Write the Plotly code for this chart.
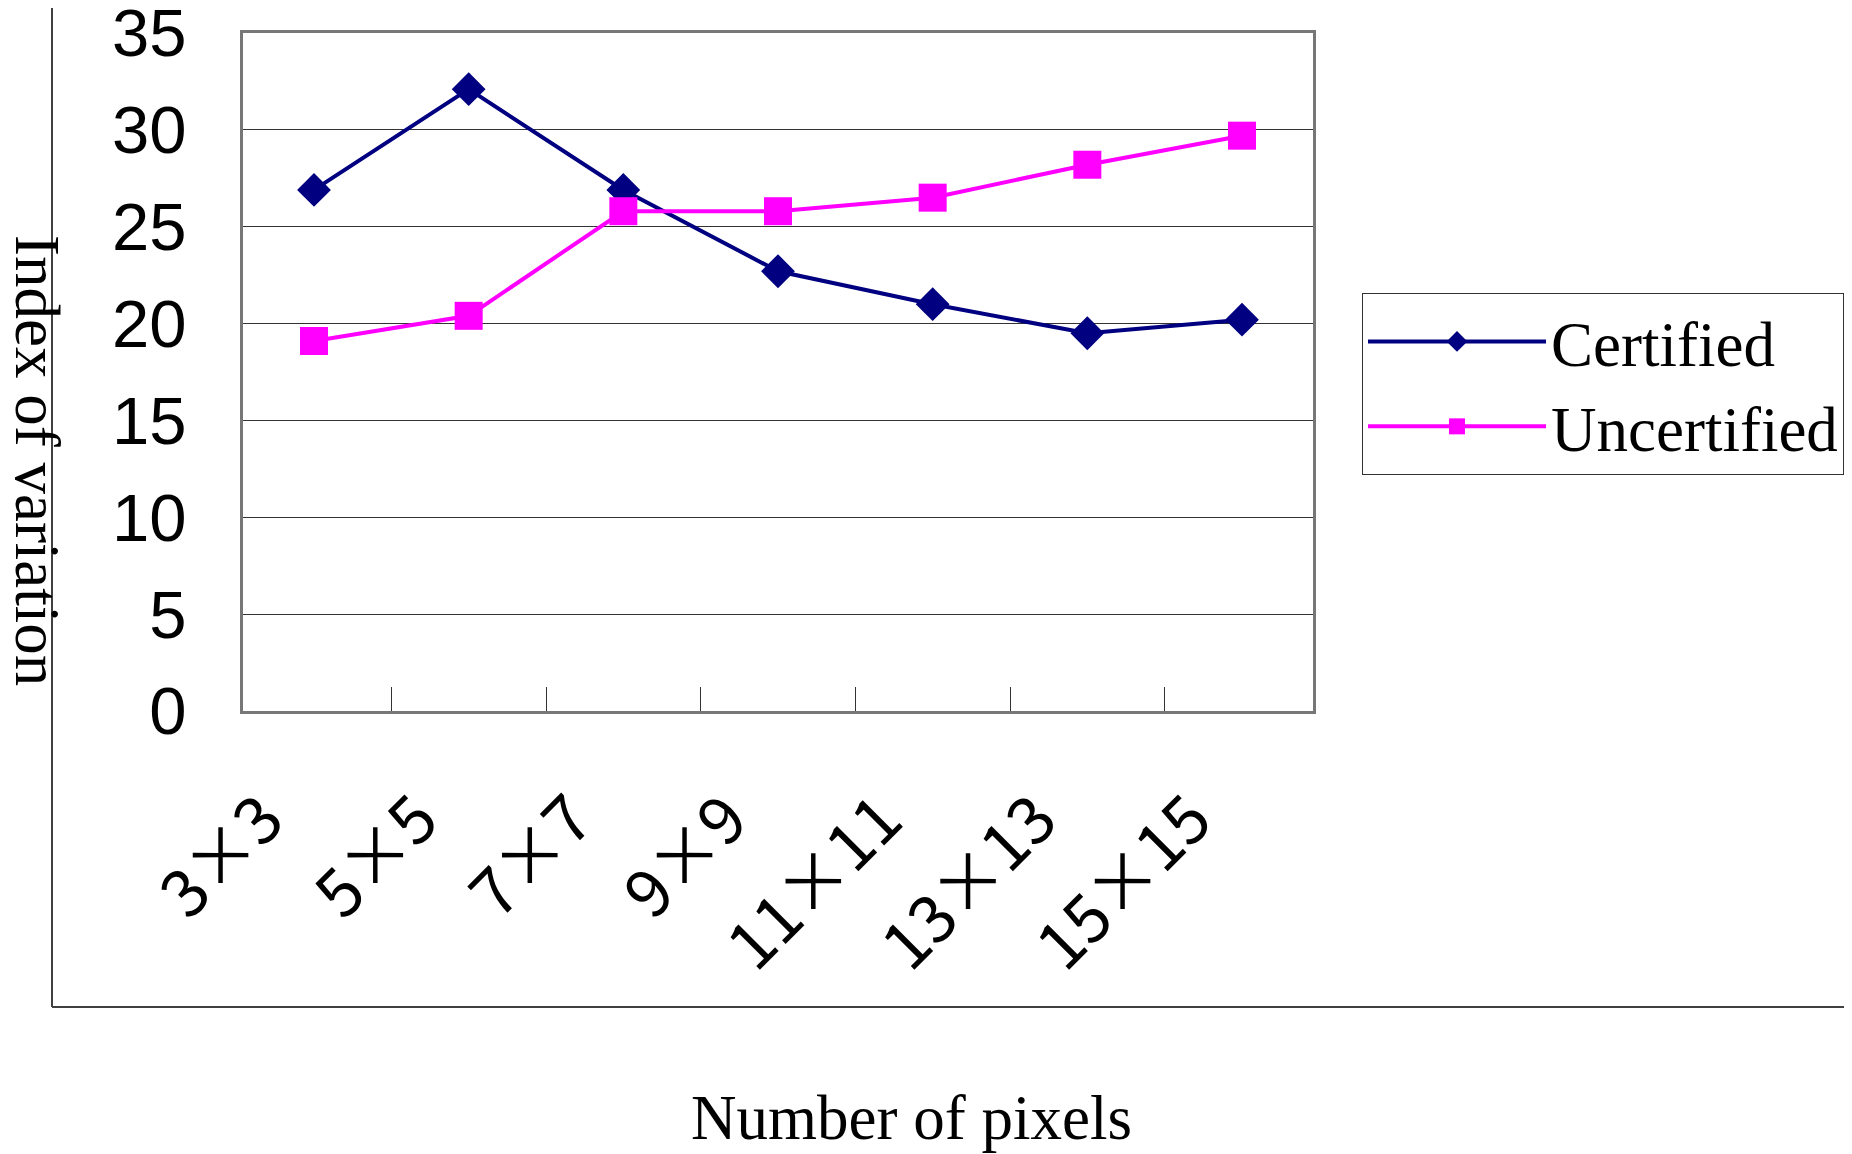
import plotly.graph_objects as go

# categories and values
pixels = ["3×3", "5×5", "7×7", "9×9", "11×11", "13×13", "15×15"]
certified = [26.9, 32.1, 26.9, 22.7, 21.0, 19.5, 20.2]
uncertified = [19.1, 20.4, 25.8, 25.8, 26.5, 28.2, 29.7]
y_ticks = [0, 5, 10, 15, 20, 25, 30, 35]

W, H = 1852, 1154
OFF = 8                            # page body margin
L, R, T, B = 243, 1313, 33, 711    # plot area on screen


def px_x(x):
    return (x - L) / (R - L)


def px_y(y):
    return (B - y) / (B - T)


fig = go.Figure()

fig.add_trace(go.Scatter(
    x=pixels, y=certified, name="Certified", mode="lines+markers",
    line=dict(color="#000080", width=4),
    marker=dict(symbol="diamond", size=26, color="#000080"),
))
fig.add_trace(go.Scatter(
    x=pixels, y=uncertified, name="Uncertified", mode="lines+markers",
    line=dict(color="#FF00FF", width=4),
    marker=dict(symbol="square", size=28, color="#FF00FF"),
))

y_font = dict(family="Liberation Sans, Arial, sans-serif", size=67, color="black")
x_font = dict(family="Noto Sans CJK JP, sans-serif", size=66, color="black")
serif = "Liberation Serif, Times New Roman, serif"

fig.update_layout(
    width=W, height=H,
    margin=dict(l=L - OFF, r=W - R + OFF, t=T - OFF, b=H - B + OFF, autoexpand=False),
    paper_bgcolor="white", plot_bgcolor="white",
    showlegend=True,
    legend=dict(
        x=px_x(1362), y=px_y(293), xanchor="left", yanchor="top",
        font=dict(family=serif, size=63, color="black"),
        bordercolor="#333333", borderwidth=1, bgcolor="white",
        itemwidth=178, tracegroupgap=0,
    ),
)

fig.update_xaxes(
    type="category", tickangle=-45, tickfont=x_font,
    ticks="inside", ticklen=24, tickcolor="#333333", tickson="boundaries",
    showgrid=False, showline=True, linecolor="#777777", linewidth=3, mirror=True,
    ticklabelstandoff=40, ticklabelshift=-50,
)
fig.update_yaxes(
    range=[0, 35], tickvals=y_ticks, tickfont=y_font, ticklabeloverflow="allow",
    ticks="inside", ticklen=24, tickcolor="#333333",
    showgrid=True, gridcolor="#333333", gridwidth=1,
    showline=True, linecolor="#777777", linewidth=3, mirror=True,
    ticklabelstandoff=40, zeroline=False,
)

# axis titles
fig.add_annotation(
    text="Number of pixels", xref="paper", yref="paper",
    x=px_x(911), y=px_y(1118), showarrow=False,
    xanchor="center", yanchor="middle",
    font=dict(family=serif, size=63, color="black"),
)
fig.add_annotation(
    text="Index of variation", xref="paper", yref="paper",
    x=px_x(37), y=px_y(460), showarrow=False, textangle=90,
    xanchor="center", yanchor="middle",
    font=dict(family=serif, size=63, color="black"),
)

# outer chart-area frame
frame = dict(color="#404040", width=2)
fig.add_shape(type="line", xref="paper", yref="paper",
              x0=px_x(52), x1=px_x(52), y0=px_y(-10), y1=px_y(1007), line=frame)
fig.add_shape(type="line", xref="paper", yref="paper",
              x0=px_x(52), x1=px_x(1900), y0=px_y(1007), y1=px_y(1007), line=frame)

fig.write_html("out.html")
